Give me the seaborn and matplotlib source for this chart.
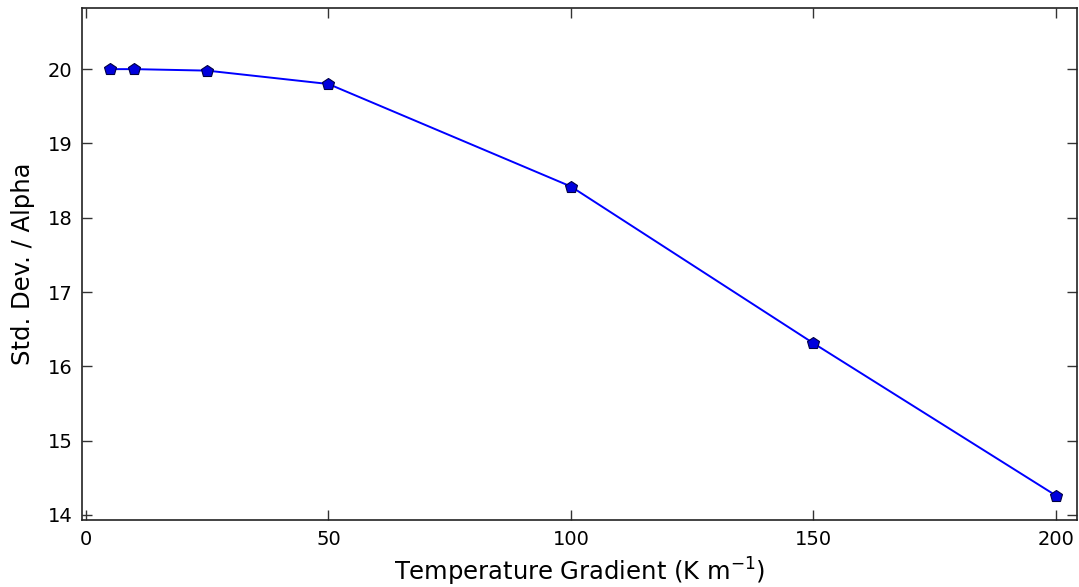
import numpy as np
import pandas as pd
import matplotlib
matplotlib.use("Agg")
import matplotlib.pyplot as plt
import seaborn as sns

# ------------------------------------------------------------
# Data
# ------------------------------------------------------------
gradient = [5, 10, 25, 50, 100, 150, 200]
std_alpha = [20.0, 20.0, 19.98, 19.8, 18.42, 16.31, 14.26]

df = pd.DataFrame({"gradient": gradient, "std_alpha": std_alpha})

# ------------------------------------------------------------
# Plot
# ------------------------------------------------------------
sns.set_style("ticks")
plt.rcParams["font.family"] = ["DejaVu Sans"]
plt.rcParams["text.color"] = "black"
plt.rcParams["axes.labelcolor"] = "black"
plt.rcParams["xtick.color"] = "black"
plt.rcParams["ytick.color"] = "black"

fig = plt.figure(figsize=(10.79, 5.87), dpi=100)
ax = fig.add_axes([0.076, 0.114, 0.922, 0.872])

sns.lineplot(data=df, x="gradient", y="std_alpha", ax=ax, color="#0000ff",
             linewidth=1.4, marker="p", markersize=9, markerfacecolor="#0000dd",
             markeredgecolor="#000044", markeredgewidth=0.8)

ax.set_xlim(-0.8, 204.3)
ax.set_ylim(13.93, 20.82)
ax.set_xticks([0, 50, 100, 150, 200])
ax.set_yticks([14, 15, 16, 17, 18, 19, 20])
ax.tick_params(direction="in", top=True, right=True, labelsize=14,
               length=7, width=1, color="#333333", pad=7)
for s in ax.spines.values():
    s.set_linewidth(1.2)
    s.set_color("#222222")

ax.set_xlabel("Temperature Gradient (K m$^{-1}$)", fontsize=17.5, labelpad=5)
ax.set_ylabel("Std. Dev. / Alpha", fontsize=17.5, labelpad=9)

fig.savefig("out.png", dpi=100)
